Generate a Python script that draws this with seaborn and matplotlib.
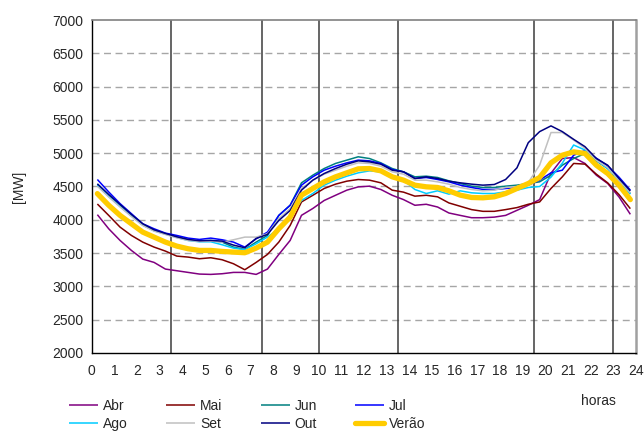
import numpy as np
import pandas as pd
import matplotlib
matplotlib.use("Agg")
import matplotlib.pyplot as plt
import seaborn as sns

# ---- data (MW, half-hour steps centred at 0.25 .. 23.75 h) ----
horas = [0.25 + 0.5 * i for i in range(48)]

Abr = [4077, 3865, 3690, 3540, 3410, 3360, 3260, 3235, 3210, 3185, 3180, 3190, 3210, 3210, 3180, 3260,
       3480, 3690, 4067, 4170, 4290, 4368, 4445, 4494, 4505, 4455, 4368, 4303, 4218, 4233, 4192, 4102,
       4066, 4031, 4031, 4040, 4066, 4142, 4218, 4303, 4700, 4920, 4935, 4846, 4670, 4545, 4343, 4082]
Mai = [4237, 4066, 3890, 3765, 3665, 3590, 3530, 3455, 3440, 3415, 3430, 3400, 3340, 3250, 3360, 3480,
       3665, 3915, 4268, 4368, 4470, 4535, 4580, 4605, 4595, 4555, 4445, 4415, 4355, 4368, 4345, 4253,
       4203, 4153, 4127, 4127, 4153, 4183, 4233, 4268, 4470, 4645, 4846, 4836, 4685, 4555, 4378, 4167]
Jun = [4534, 4368, 4218, 4066, 3925, 3840, 3790, 3740, 3700, 3680, 3690, 3665, 3590, 3555, 3665, 3765,
       4066, 4218, 4555, 4670, 4770, 4846, 4896, 4946, 4920, 4855, 4770, 4720, 4645, 4655, 4635, 4585,
       4545, 4505, 4485, 4485, 4505, 4520, 4545, 4570, 4670, 4820, 4920, 4996, 4885, 4770, 4605, 4395]
Jul = [4605, 4418, 4243, 4092, 3940, 3865, 3800, 3765, 3725, 3705, 3725, 3700, 3665, 3590, 3715, 3815,
       4066, 4218, 4520, 4645, 4745, 4805, 4855, 4896, 4885, 4846, 4755, 4720, 4620, 4635, 4605, 4570,
       4520, 4485, 4455, 4455, 4470, 4485, 4520, 4595, 4705, 4745, 4970, 5040, 4925, 4810, 4640, 4445]
Ago = [4520, 4353, 4203, 4057, 3920, 3835, 3785, 3735, 3690, 3670, 3670, 3625, 3575, 3550, 3640, 3740,
       3865, 4066, 4290, 4395, 4520, 4595, 4655, 4705, 4735, 4720, 4645, 4595, 4455, 4395, 4435, 4385,
       4435, 4405, 4395, 4395, 4420, 4445, 4485, 4500, 4640, 4850, 5123, 5048, 4895, 4770, 4595, 4384]
Set = [4504, 4343, 4192, 4050, 3915, 3830, 3780, 3730, 3690, 3675, 3680, 3665, 3700, 3740, 3740, 3790,
       4016, 4167, 4470, 4595, 4685, 4745, 4805, 4855, 4846, 4805, 4720, 4685, 4595, 4595, 4570, 4535,
       4485, 4455, 4435, 4445, 4485, 4500, 4560, 4820, 5310, 5310, 5198, 5073, 4895, 4785, 4595, 4405]
Out = [4540, 4380, 4230, 4080, 3940, 3850, 3795, 3745, 3705, 3685, 3690, 3680, 3620, 3580, 3720, 3780,
       3990, 4140, 4445, 4595, 4695, 4770, 4835, 4885, 4870, 4835, 4745, 4720, 4620, 4645, 4620, 4580,
       4555, 4535, 4520, 4530, 4605, 4780, 5158, 5324, 5410, 5324, 5208, 5098, 4920, 4820, 4620, 4434]
Verao = [4393, 4218, 4066, 3940, 3815, 3740, 3665, 3605, 3565, 3540, 3540, 3525, 3515, 3505, 3575, 3665,
         3865, 4040, 4370, 4470, 4570, 4645, 4705, 4765, 4770, 4735, 4645, 4595, 4520, 4495, 4485, 4435,
         4370, 4335, 4330, 4345, 4395, 4470, 4545, 4635, 4855, 4970, 5020, 4996, 4820, 4695, 4520, 4303]

series_names = ["Abr", "Mai", "Jun", "Jul", "Ago", "Set", "Out", "Verão"]
series_vals = [Abr, Mai, Jun, Jul, Ago, Set, Out, Verao]
colors = ["#800080", "#800000", "#008080", "#0000FF", "#00CCFF", "#C0C0C0", "#000080", "#FFCC00"]
widths = [1.1, 1.1, 1.1, 1.1, 1.1, 1.1, 1.1, 3.8]

x_ticks = list(range(0, 25))
y_ticks = list(range(2000, 7001, 500))
separadores = [3.5, 7.5, 10, 13.5, 19.5, 23]

df = pd.DataFrame({
    "hora": np.tile(horas, len(series_names)),
    "MW": np.concatenate(series_vals),
    "serie": np.repeat(series_names, len(horas)),
})

sns.set_style("white")
plt.rcParams["font.family"] = ["Liberation Sans", "DejaVu Sans"]

fig = plt.figure(figsize=(6.44, 4.33), dpi=100)
ax = fig.add_axes([0.1424, 0.1848, 0.8452, 0.7690])

# grid
for yv in y_ticks[1:-1]:
    ax.axhline(yv, color="#A6A6A6", lw=1.0, dashes=(5, 3.3), zorder=0)
for xv in separadores:
    ax.axvline(xv, color="#3C3C3C", lw=1.1, zorder=1)

for name, col, lw in zip(series_names, colors, widths):
    sub = df[df["serie"] == name]
    sns.lineplot(data=sub, x="hora", y="MW", color=col, lw=lw, ax=ax,
                 label=name, zorder=3 if name != "Verão" else 4,
                 solid_capstyle="round" if name == "Verão" else "butt")

ax.set_xlim(0, 24)
ax.set_ylim(2000, 7000)
ax.set_xticks(x_ticks)
ax.set_yticks(y_ticks)
ax.set_xlabel("")
ax.set_ylabel("[MW]", fontsize=10)
ax.yaxis.set_label_coords(-0.12, 0.5)
ax.tick_params(axis="x", direction="out", length=4, width=1, color="black",
               labelsize=10, pad=4)
ax.tick_params(axis="y", direction="inout", length=6, width=1, color="black",
               labelsize=10, pad=3)
ax.spines["left"].set_color("black")
ax.spines["bottom"].set_color("black")
ax.spines["left"].set_linewidth(1.0)
ax.spines["bottom"].set_linewidth(1.0)
ax.spines["top"].set_color("#808080")
ax.spines["top"].set_linewidth(1.2)
ax.spines["right"].set_color("#A0A0A0")
ax.spines["right"].set_linewidth(1.8)

handles, labels = ax.get_legend_handles_labels()
ax.get_legend().remove()
# row-wise order for a column-filled legend
order = [0, 4, 1, 5, 2, 6, 3, 7]
fig.legend([handles[i] for i in order], [labels[i] for i in order], ncol=4,
           loc="upper left", bbox_to_anchor=(69 / 644, 1 - 399 / 433), frameon=False,
           fontsize=10, handlelength=2.1, handletextpad=0.35,
           columnspacing=2.75, labelspacing=0.3, borderpad=0, borderaxespad=0)

fig.text(598 / 644, 1 - 401 / 433, "horas", ha="center", va="center", fontsize=10)

fig.savefig("out.png", dpi=100)
